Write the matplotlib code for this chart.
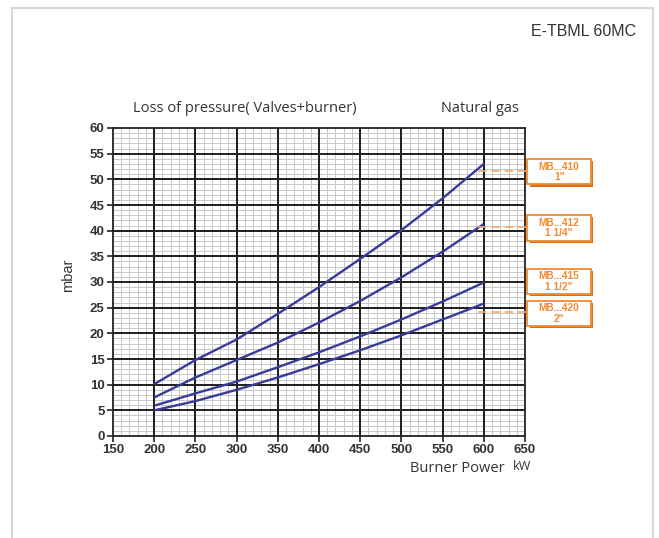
import matplotlib
matplotlib.use("Agg")
import numpy as np
import matplotlib.pyplot as plt
from matplotlib.patches import Rectangle
from matplotlib.lines import Line2D

# Burner power (kW) and pressure loss (mbar) for each valve train
power = [200, 250, 300, 350, 400, 450, 500, 550, 600]
mb410 = [10.1, 14.8, 18.8, 23.8, 29.0, 34.5, 40.1, 46.3, 53.0]
mb412 = [7.5, 11.4, 14.8, 18.2, 22.1, 26.3, 30.9, 35.9, 41.3]
mb415 = [5.9, 8.3, 10.6, 13.4, 16.3, 19.4, 22.7, 26.2, 29.9]
mb420 = [5.0, 6.8, 9.0, 11.4, 14.0, 16.7, 19.6, 22.7, 25.8]

valve_names = ["MB...410", "MB...412", "MB...415", "MB...420"]
valve_sizes = ['1"', '1 1/4"', '1 1/2"', '2"']
# y-centre of each label box and the level of its dashed leader (None = no leader)
box_centres = [51.5, 40.55, 30.1, 23.85]
leader_levels = [51.7, 40.7, None, 24.2]

x_ticks = [150, 200, 250, 300, 350, 400, 450, 500, 550, 600, 650]
y_ticks = [0, 5, 10, 15, 20, 25, 30, 35, 40, 45, 50, 55, 60]

W, H = 659, 538
fig = plt.figure(figsize=(W / 100, H / 100), dpi=100)

# light page frame
frame_kw = dict(color="#d8d8d8", lw=1.5, transform=fig.transFigure)
fig.add_artist(Line2D([12 / W, 653 / W], [1 - 7.5 / H, 1 - 7.5 / H], **frame_kw))
fig.add_artist(Line2D([12 / W, 12 / W], [0, 1 - 7.5 / H], **frame_kw))
fig.add_artist(Line2D([653 / W, 653 / W], [0, 1 - 7.5 / H], **frame_kw))

fig.text(636 / W, 1 - 31 / H, "E-TBML 60MC", ha="right", va="center",
         fontsize=11.5, family="Liberation Sans", color="#333333")

ax = fig.add_axes([113 / W, 1 - 436 / H, (525 - 113) / W, (436 - 128) / H])
ax.set_xlim(x_ticks[0], x_ticks[-1])
ax.set_ylim(y_ticks[0], y_ticks[-1])

# millimetre-paper style grid: fine grey lines under heavy dark lines,
# snapped to whole pixels so crossings stay crisp
minor_x = [v for v in np.arange(x_ticks[0], x_ticks[-1] + 1, 10) if v not in x_ticks]
minor_y = [v for v in np.arange(y_ticks[0], y_ticks[-1] + 1, 1) if v not in y_ticks]
minor_kw = dict(color="#c8c8c8", lw=0.72, zorder=0.5, snap=True)
major_kw = dict(color="#222222", lw=1.44, snap=True)
for v in minor_x:
    ax.axvline(v, **minor_kw)
for v in minor_y:
    ax.axhline(v, **minor_kw)
for v in y_ticks[1:-1]:
    ax.axhline(v, zorder=1, **major_kw)
for v in x_ticks[1:-1]:
    ax.axvline(v, zorder=1.5, **major_kw)

ax.set_xticks(x_ticks)
ax.set_yticks(y_ticks)
ax.set_xticklabels([str(v) for v in x_ticks])
ax.set_yticklabels([str(v) for v in y_ticks])
ax.tick_params(which="major", length=4, width=1.2, color="#222222",
               pad=2, labelsize=9.5, labelcolor="#333333")
for lbl in ax.get_xticklabels() + ax.get_yticklabels():
    lbl.set_fontweight("bold")
    lbl.set_family("Liberation Sans")
for sp in ax.spines.values():
    sp.set_color("#222222")
    sp.set_linewidth(1.3)

curve_color = "#373c98"
for series in (mb410, mb412, mb415, mb420):
    ax.plot(power, series, color=curve_color, lw=1.7, solid_capstyle="butt", zorder=3)

orange = "#f28a2e"
shadow = "#e0701c"
box_x0, box_x1 = 653, 730
box_h = 5.0
for name, size, yc, lvl in zip(valve_names, valve_sizes, box_centres, leader_levels):
    if lvl is not None:
        ax.plot([593, 652], [lvl, lvl], color="#f4a868", lw=1.2,
                ls=(0, (5, 3)), clip_on=False, zorder=4)
    ax.add_patch(Rectangle((box_x0 + 2.5, yc - box_h / 2 - 0.4), box_x1 - box_x0, box_h,
                           facecolor=shadow, edgecolor=shadow, lw=0,
                           clip_on=False, zorder=4))
    ax.add_patch(Rectangle((box_x0, yc - box_h / 2), box_x1 - box_x0, box_h,
                           facecolor="white", edgecolor=orange, lw=1.3,
                           clip_on=False, zorder=5))
    ax.text((box_x0 + box_x1) / 2, yc + 1.0, name, ha="center", va="center",
            fontsize=7.3, fontweight="bold", color=orange,
            family="Liberation Sans", clip_on=False, zorder=6)
    ax.text((box_x0 + box_x1) / 2, yc - 1.1, size, ha="center", va="center",
            fontsize=7.3, fontweight="bold", color=orange,
            family="Liberation Sans", clip_on=False, zorder=6)

fig.text(133 / W, 1 - 108 / H, "Loss of pressure( Valves+burner)", ha="left",
         va="center", fontsize=10.5, family="Open Sans", color="#333333")
fig.text(519 / W, 1 - 108 / H, "Natural gas", ha="right", va="center",
         fontsize=10.5, family="Open Sans", color="#333333")
fig.text(410 / W, 1 - 468 / H, "Burner Power", ha="left", va="center",
         fontsize=10.5, family="Open Sans", color="#333333")
fig.text(531 / W, 1 - 467 / H, "kW", ha="right", va="center",
         fontsize=9, family="Open Sans", color="#333333")
fig.text(68 / W, 1 - 275 / H, "mbar", ha="center", va="center", rotation=90,
         fontsize=10.5, family="Liberation Sans", color="#333333")

fig.savefig("out.png", dpi=100)
